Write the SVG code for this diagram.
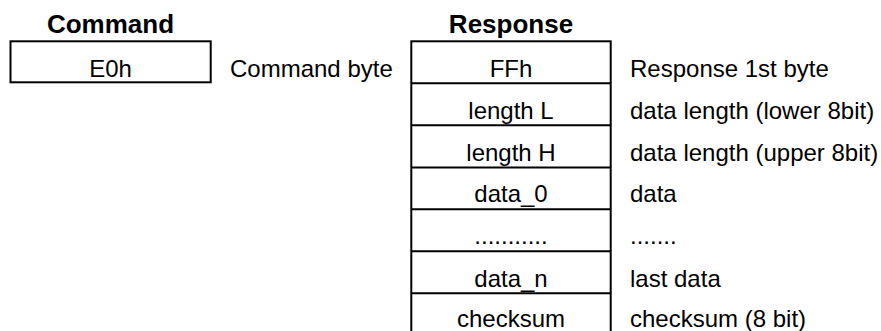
<svg xmlns="http://www.w3.org/2000/svg" width="881" height="331" viewBox="0 0 881 331">
<style>
.t{font-family:"Liberation Sans",Arial,sans-serif;font-size:24px;fill:#000}
.c{text-anchor:middle}
.h{font-family:"Liberation Sans",Arial,sans-serif;font-size:26px;font-weight:bold;fill:#000;text-anchor:middle}
.b{fill:#fff;stroke:#000;stroke-width:2}
</style>
<rect width="881" height="331" fill="#fff"/>
<g id="headers">
<text class="h" x="110.5" y="33">Command</text>
<text class="h" x="511" y="33">Response</text>
</g>
<g id="command-cell">
<rect class="b" x="10.5" y="41.3" width="200.2" height="41"/>
<text class="t c" x="110.5" y="77">E0h</text>
</g>
<g id="command-label">
<text class="t" x="230" y="77">Command byte</text>
</g>
<g id="response-table">
<rect class="b" x="411.3" y="41.3" width="199.4" height="295"/>
<g id="cell-ffh"><text class="t c" x="511" y="77">FFh</text><text class="t" x="630" y="77">Response 1st byte</text></g>
<g id="cell-lenL"><line class="b" x1="411.3" y1="83.3" x2="610.7" y2="83.3"/><text class="t c" x="511" y="119">length L</text><text class="t" x="630" y="119">data length (lower 8bit)</text></g>
<g id="cell-lenH"><line class="b" x1="411.3" y1="125.3" x2="610.7" y2="125.3"/><text class="t c" x="511" y="161">length H</text><text class="t" x="630" y="161">data length (upper 8bit)</text></g>
<g id="cell-data0"><line class="b" x1="411.3" y1="167.5" x2="610.7" y2="167.5"/><text class="t c" x="511" y="202">data_0</text><text class="t" x="630" y="202">data</text></g>
<g id="cell-dots"><line class="b" x1="411.3" y1="209.3" x2="610.7" y2="209.3"/><text class="t c" x="511" y="244">...........</text><text class="t" x="630" y="244">.......</text></g>
<g id="cell-datan"><line class="b" x1="411.3" y1="251.3" x2="610.7" y2="251.3"/><text class="t c" x="511" y="287">data_n</text><text class="t" x="630" y="287">last data</text></g>
<g id="cell-checksum"><line class="b" x1="411.3" y1="293.3" x2="610.7" y2="293.3"/><text class="t c" x="511" y="327">checksum</text><text class="t" x="630" y="327">checksum (8 bit)</text></g>
</g>
</svg>
